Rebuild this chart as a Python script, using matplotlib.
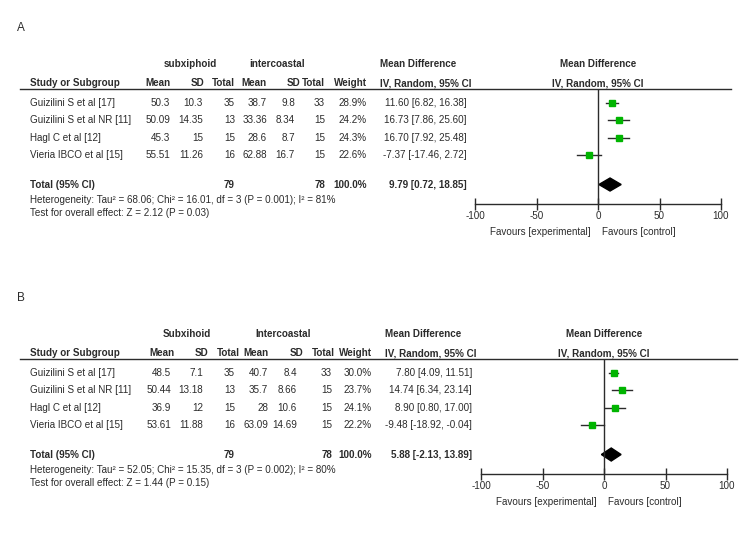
import matplotlib
matplotlib.use("Agg")
import matplotlib.pyplot as plt
from matplotlib.patches import Polygon

plt.rcParams['font.family'] = ['Liberation Sans', 'DejaVu Sans']

# ---- datos ----
estudios = ["Guizilini S et al [17]", "Guizilini S et al NR [11]",
            "Hagl C et al [12]", "Vieria IBCO et al [15]"]

# panel A
a_mean1 = [50.3, 50.09, 45.3, 55.51]
a_sd1 = [10.3, 14.35, 15, 11.26]
a_n1 = [35, 13, 15, 16]
a_mean2 = [38.7, 33.36, 28.6, 62.88]
a_sd2 = [9.8, 8.34, 8.7, 16.7]
a_n2 = [33, 15, 15, 15]
a_peso = [28.9, 24.2, 24.3, 22.6]
a_md = [11.60, 16.73, 16.70, -7.37]
a_lo = [6.82, 7.86, 7.92, -17.46]
a_hi = [16.38, 25.60, 25.48, 2.72]
a_total = [9.79, 0.72, 18.85]
a_het = "Heterogeneity: Tau² = 68.06; Chi² = 16.01, df = 3 (P = 0.001); I² = 81%"
a_test = "Test for overall effect: Z = 2.12 (P = 0.03)"

# panel B
b_mean1 = [48.5, 50.44, 36.9, 53.61]
b_sd1 = [7.1, 13.18, 12, 11.88]
b_n1 = [35, 13, 15, 16]
b_mean2 = [40.7, 35.7, 28, 63.09]
b_sd2 = [8.4, 8.66, 10.6, 14.69]
b_n2 = [33, 15, 15, 15]
b_peso = [30.0, 23.7, 24.1, 22.2]
b_md = [7.80, 14.74, 8.90, -9.48]
b_lo = [4.09, 6.34, 0.80, -18.92]
b_hi = [11.51, 23.14, 17.00, -0.04]
b_total = [5.88, -2.13, 13.89]
b_het = "Heterogeneity: Tau² = 52.05; Chi² = 15.35, df = 3 (P = 0.002); I² = 80%"
b_test = "Test for overall effect: Z = 1.44 (P = 0.15)"

ticks = [-100, -50, 0, 50, 100]

W, H = 750, 543
fig = plt.figure(figsize=(W / 100, H / 100), dpi=100)
bg = fig.add_axes([0, 0, 1, 1])
bg.set_xlim(0, W)
bg.set_ylim(H, 0)
bg.axis("off")

col = "#2b2b2b"
fs = 7.1
verde = "#00b400"


def panel(letra, y0, g1, g2, gx, m1, s1, n1, m2, s2, n2, peso, md, lo, hi, tot,
          het, test, hx, vx, efx, fx0, fx1):
    # y0 = posicion del header
    dy = 17.6
    bg.text(17, y0 - 36, letra, fontsize=8.5, color=col, va="center")
    bg.text(gx[0], y0, g1, fontsize=fs, fontweight="bold",
            color=col, ha="center", va="center")
    bg.text(gx[1], y0, g2, fontsize=fs, fontweight="bold",
            color=col, ha="center", va="center")
    bg.text(efx - 87, y0, "Mean Difference", fontsize=fs, fontweight="bold",
            color=col, ha="left", va="center")
    fc = (fx0 + fx1) / 2
    bg.text(fc, y0, "Mean Difference", fontsize=fs, fontweight="bold",
            color=col, ha="center", va="center")
    y1 = y0 + 19
    bg.text(30, y1, "Study or Subgroup", fontsize=fs, fontweight="bold",
            color=col, va="center")
    for x, t in zip(hx, ["Mean", "SD", "Total", "Mean", "SD", "Total", "Weight"]):
        bg.text(x, y1, t, fontsize=fs, fontweight="bold", color=col,
                ha="right", va="center")
    bg.text(efx - 87, y1, "IV, Random, 95% CI", fontsize=fs, fontweight="bold",
            color=col, ha="left", va="center")
    bg.text(fc, y1, "IV, Random, 95% CI", fontsize=fs, fontweight="bold",
            color=col, ha="center", va="center")
    yl = y1 + 5.5
    bg.plot([20, fx1 + 10], [yl, yl], color=col, lw=1)

    yr = yl + 14
    for i in range(len(estudios)):
        y = yr + i * dy
        bg.text(30, y, estudios[i], fontsize=fs, color=col, va="center")
        vals = [f"{m1[i]:g}", f"{s1[i]:g}", f"{n1[i]}", f"{m2[i]:g}",
                f"{s2[i]:g}", f"{n2[i]}", f"{peso[i]:.1f}%"]
        for x, t in zip(vx, vals):
            bg.text(x, y, t, fontsize=fs, color=col, ha="right", va="center")
        bg.text(efx, y, f"{md[i]:.2f} [{lo[i]:.2f}, {hi[i]:.2f}]", fontsize=fs,
                color=col, ha="right", va="center")

    yt = yr + 4.66 * dy
    bg.text(30, yt, "Total (95% CI)", fontsize=fs, fontweight="bold", color=col,
            va="center")
    bg.text(vx[2], yt, f"{sum(n1)}", fontsize=fs, fontweight="bold", color=col,
            ha="right", va="center")
    bg.text(vx[5], yt, f"{sum(n2)}", fontsize=fs, fontweight="bold", color=col,
            ha="right", va="center")
    bg.text(vx[6], yt, f"{sum(peso):.1f}%", fontsize=fs, fontweight="bold",
            color=col, ha="right", va="center")
    bg.text(efx, yt, f"{tot[0]:.2f} [{tot[1]:.2f}, {tot[2]:.2f}]", fontsize=fs,
            fontweight="bold", color=col, ha="right", va="center")
    bg.text(30, yt + 15, het, fontsize=fs, color=col, va="center")
    bg.text(30, yt + 28, test, fontsize=fs, color=col, va="center")

    # forest
    ya = yt + 19
    ax = fig.add_axes([fx0 / W, 1 - ya / H, (fx1 - fx0) / W, (ya - yl) / H])
    ax.set_xlim(-100, 100)
    ax.set_ylim((ya - yr) / dy, (yl - yr) / dy)
    ax.patch.set_alpha(0)
    for s in ["top", "left", "right"]:
        ax.spines[s].set_visible(False)
    ax.spines["bottom"].set_color(col)
    ax.spines["bottom"].set_linewidth(1)
    ax.set_yticks([])
    ax.set_xticks(ticks)
    ax.set_xticklabels([f"{t}" for t in ticks])
    ax.tick_params(axis="x", direction="inout", length=9, width=1, color=col,
                   labelsize=fs, labelcolor=col, pad=1)
    ax.axvline(0, color=col, lw=1)
    for i in range(len(estudios)):
        ax.plot([lo[i], hi[i]], [i, i], color=col, lw=1)
        ax.plot(md[i], i, marker="s", color=verde, ms=4.6 * (peso[i] / 28.9) ** 0.5,
                mec=verde, ls="none")
    yd = 4.66
    h = 0.37
    ax.add_patch(Polygon([(tot[1], yd), (tot[0], yd - h), (tot[2], yd),
                          (tot[0], yd + h)], closed=True, color="black"))
    bg.text(fc - 58, ya + 28, "Favours [experimental]", fontsize=fs, color=col,
            ha="center", va="center")
    bg.text(fc + 41, ya + 28, "Favours [control]", fontsize=fs, color=col,
            ha="center", va="center")


panel("A", 64, "subxiphoid", "intercoastal", [190, 277], a_mean1, a_sd1, a_n1,
      a_mean2, a_sd2, a_n2, a_peso, a_md, a_lo, a_hi, a_total, a_het, a_test,
      [171, 204, 235, 267, 300, 325, 367], [170, 203, 235, 267, 295, 325, 367],
      467, 475, 721)
panel("B", 334, "Subxihoid", "Intercoastal", [187, 283], b_mean1, b_sd1, b_n1,
      b_mean2, b_sd2, b_n2, b_peso, b_md, b_lo, b_hi, b_total, b_het, b_test,
      [175, 208, 240, 268, 303, 335, 372], [171, 203, 235, 268, 297, 332, 372],
      472, 481, 727)

fig.savefig("out.png", dpi=100)
